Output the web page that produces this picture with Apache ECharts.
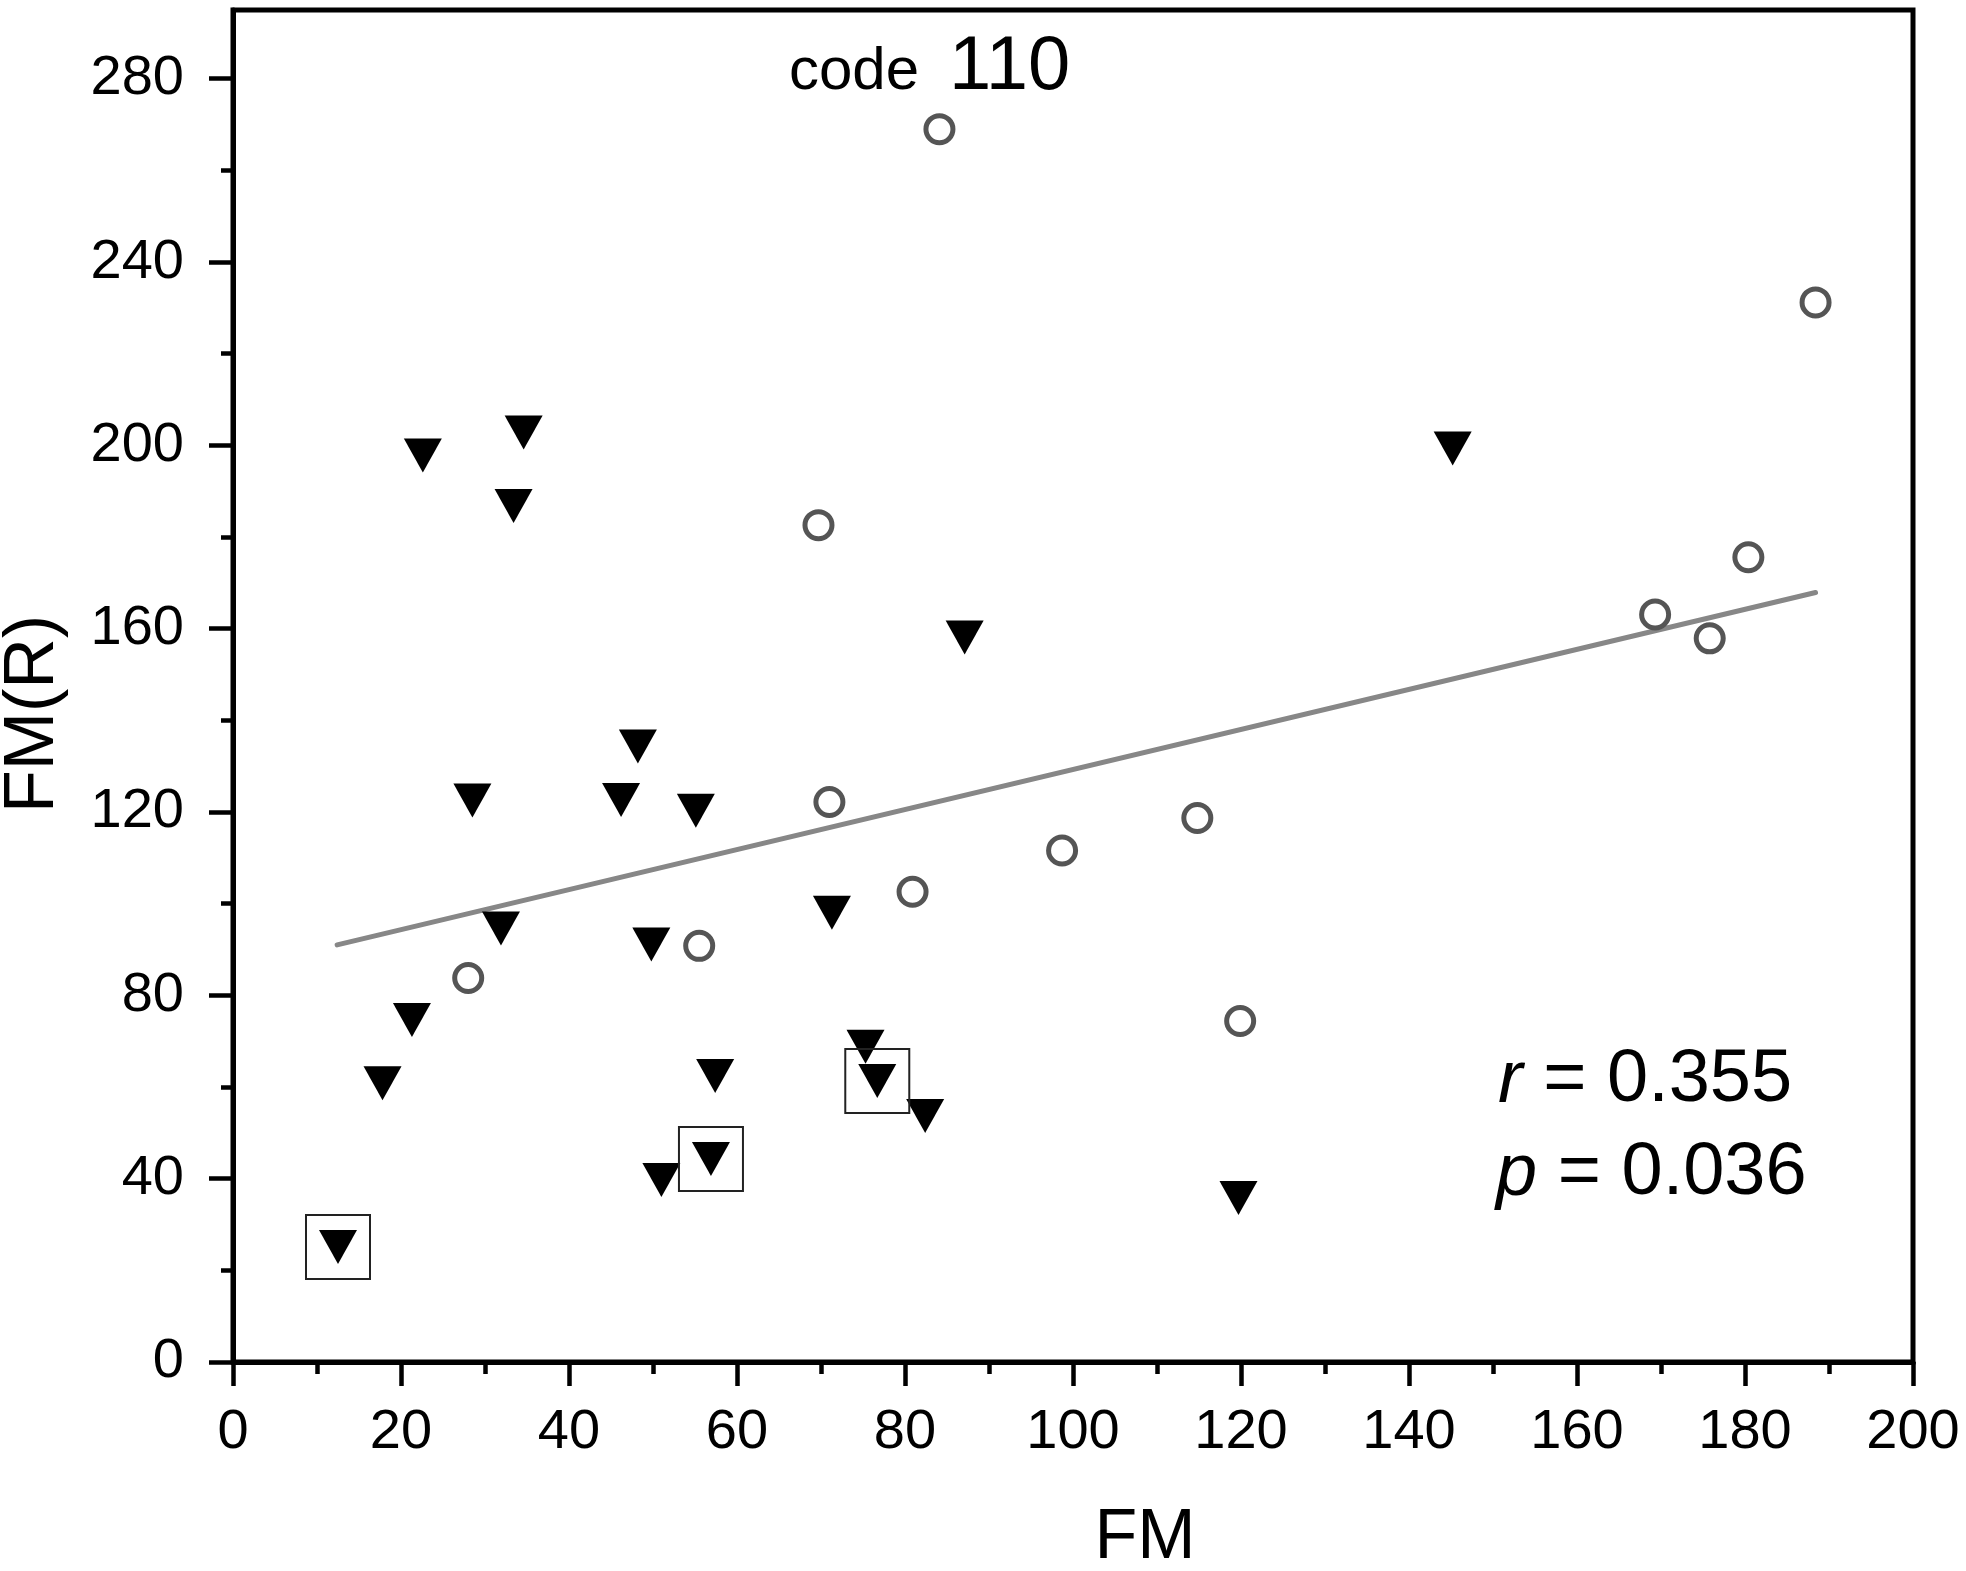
<!DOCTYPE html>
<html>
<head>
<meta charset="utf-8">
<script src="https://cdn.jsdelivr.net/npm/echarts@6/dist/echarts.min.js"></script>
<style>
  html, body { margin: 0; padding: 0; background: #fff; }
  #chart { width: 1966px; height: 1571px; }
</style>
</head>
<body>
<div id="chart"></div>
<script>
// ---- data ----
const triX = [12.5, 17.8, 21.3, 22.6, 28.5, 31.9, 33.4, 34.6, 46.2, 48.2, 49.8, 51.0, 55.1, 56.9, 57.4, 71.3, 75.3, 76.7, 82.4, 87.1, 119.7, 145.2];
const triY = [25.1, 60.8, 74.6, 197.8, 122.5, 94.6, 186.8, 202.8, 122.6, 134.3, 91.1, 39.7, 120.3, 44.3, 62.4, 98.0, 68.8, 61.3, 53.7, 158.1, 35.8, 199.3];
const boxedIdx = [0, 13, 17];
const circX = [28.0, 55.5, 69.7, 71.0, 80.9, 84.1, 98.7, 114.8, 119.9, 169.3, 175.8, 180.4, 188.4];
const circY = [83.8, 90.8, 182.6, 122.2, 102.6, 269.0, 111.6, 118.7, 74.4, 163.1, 157.9, 175.6, 231.2];
const fitX = [12.4, 188.4];
const fitY = [91.0, 167.9];
const xTicks = [0, 20, 40, 60, 80, 100, 120, 140, 160, 180, 200];
const yTicks = [0, 40, 80, 120, 160, 200, 240, 280];
const xTitle = 'FM';
const yTitle = 'FM(R)';
const noteLabel = 'code';
const noteCode = '110';
const rText = '0.355';
const pText = '0.036';

const FONT = '"Liberation Sans", Arial, Helvetica, sans-serif';

const triData = triX.map((x, i) => [x, triY[i]]);
const circData = circX.map((x, i) => [x, circY[i]]);
const boxData = boxedIdx.map(i => [triX[i], triY[i]]);
const fitData = fitX.map((x, i) => [x, fitY[i]]);

const chart = echarts.init(document.getElementById('chart'), null, { renderer: 'canvas' });

const axisCommon = {
  type: 'value',
  axisLine: { show: true, lineStyle: { color: '#000', width: 5 } },
  axisTick: { show: true, inside: false, length: 24, lineStyle: { color: '#000', width: 4.5 } },
  minorTick: { show: true, splitNumber: 2, length: 12, lineStyle: { color: '#000', width: 4.5 } },
  splitLine: { show: false },
  axisLabel: { color: '#000', fontSize: 56, fontFamily: FONT }
};

chart.setOption({
  backgroundColor: '#fff',
  animation: false,
  grid: {
    left: 233, right: 53, top: 10, bottom: 209,
    show: true, borderColor: '#000', borderWidth: 5, backgroundColor: 'transparent'
  },
  xAxis: Object.assign({}, axisCommon, {
    min: xTicks[0], max: xTicks[xTicks.length - 1], interval: 20,
    axisLabel: Object.assign({}, axisCommon.axisLabel, { margin: 43 })
  }),
  yAxis: Object.assign({}, axisCommon, {
    min: 0, max: 295, interval: 40,
    axisTick: Object.assign({}, axisCommon.axisTick, { customValues: yTicks }),
    axisLabel: Object.assign({}, axisCommon.axisLabel, { margin: 49, customValues: yTicks })
  }),
  series: [
    {
      type: 'line',
      data: fitData,
      showSymbol: false,
      symbol: 'none',
      lineStyle: { color: '#878787', width: 5, cap: 'round', opacity: 1 },
      z: 2
    },
    {
      type: 'scatter',
      data: triData,
      symbol: 'triangle',
      symbolRotate: 180,
      symbolSize: [38, 34],
      itemStyle: { color: '#000', opacity: 1 },
      z: 3
    },
    {
      type: 'scatter',
      data: circData,
      symbol: 'circle',
      symbolSize: 27,
      itemStyle: { color: 'rgba(255,255,255,0)', borderColor: '#555', borderWidth: 5, opacity: 1 },
      z: 4
    },
    {
      type: 'scatter',
      data: boxData,
      symbol: 'rect',
      symbolSize: 64,
      itemStyle: { color: 'rgba(255,255,255,0)', borderColor: '#222', borderWidth: 2, opacity: 1 },
      z: 5
    }
  ],
  graphic: [
    {
      type: 'text', x: 789, y: 72, z: 10,
      style: { text: noteLabel, fontSize: 60, fontFamily: FONT, fill: '#000', align: 'left', verticalAlign: 'middle' }
    },
    {
      type: 'text', x: 949, y: 68, z: 10,
      style: { text: noteCode, fontSize: 76, fontFamily: FONT, fill: '#000', align: 'left', verticalAlign: 'middle' }
    },
    {
      type: 'text', x: 1498, y: 1081, z: 10,
      style: {
        text: '{i|r} = ' + rText, fontSize: 74, fontFamily: FONT, fill: '#000', align: 'left', verticalAlign: 'middle',
        rich: { i: { fontStyle: 'italic', fontSize: 74, fontFamily: FONT, fill: '#000' } }
      }
    },
    {
      type: 'text', x: 1496, y: 1174, z: 10,
      style: {
        text: '{i|p} = ' + pText, fontSize: 74, fontFamily: FONT, fill: '#000', align: 'left', verticalAlign: 'middle',
        rich: { i: { fontStyle: 'italic', fontSize: 74, fontFamily: FONT, fill: '#000' } }
      }
    },
    {
      type: 'text', x: 1145, y: 1539, z: 10,
      style: { text: xTitle, fontSize: 70, fontFamily: FONT, fill: '#000', align: 'center', verticalAlign: 'middle' }
    },
    {
      type: 'text', x: 34, y: 714, rotation: Math.PI / 2, z: 10,
      style: { text: yTitle, fontSize: 70, fontFamily: FONT, fill: '#000', align: 'center', verticalAlign: 'middle' }
    }
  ]
});
</script>
</body>
</html>
